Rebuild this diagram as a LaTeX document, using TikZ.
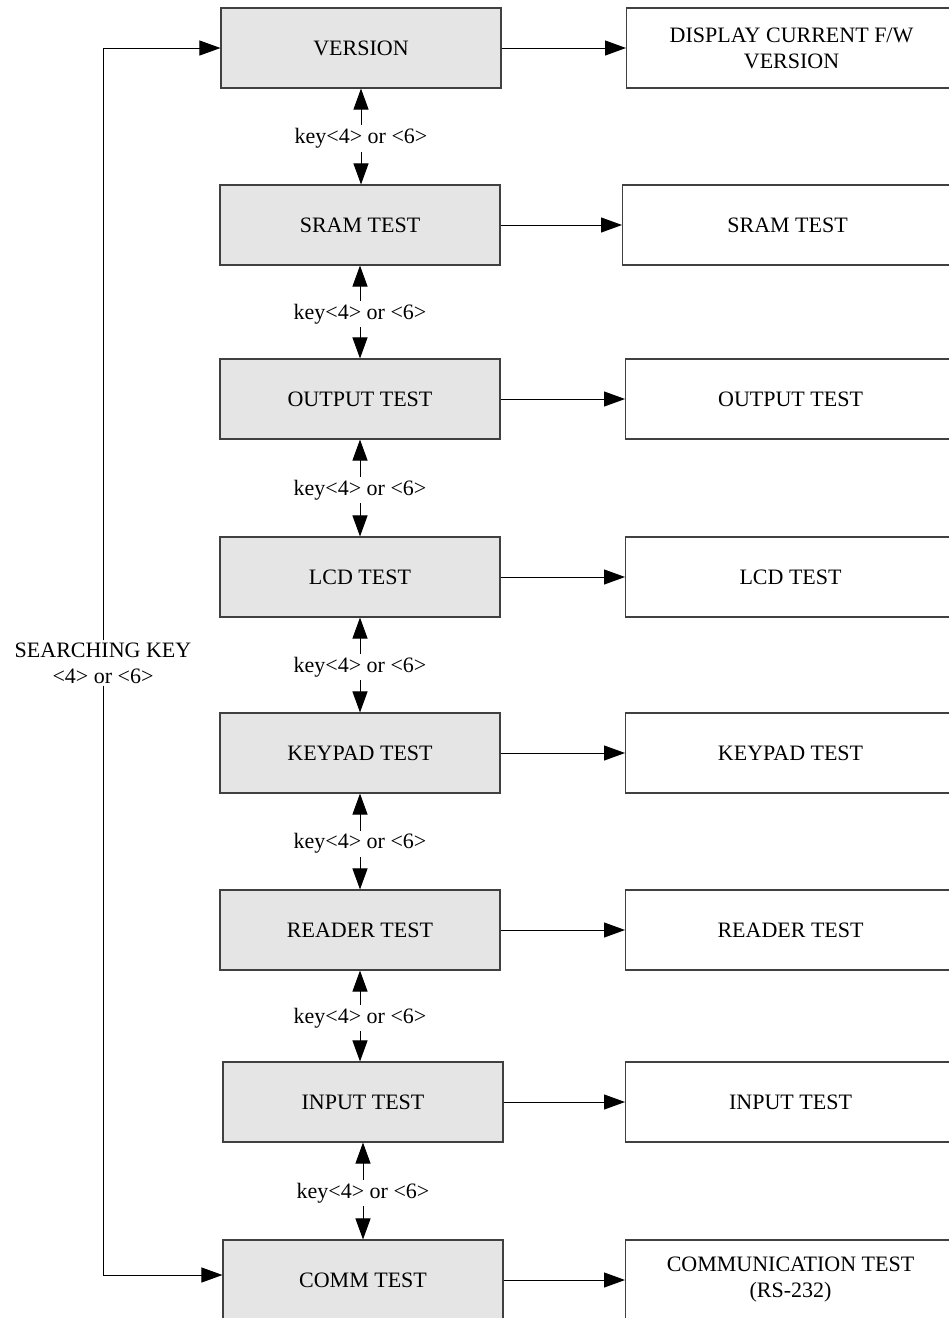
\documentclass[tikz,border=0pt]{standalone}
\usepackage{fontspec}
\setmainfont{Liberation Serif}
\usetikzlibrary{arrows.meta}
\begin{document}
\begin{tikzpicture}[x=1pt,y=-1pt,
  txt/.style={font=\fontsize{22}{26}\selectfont},
  lbox/.style={txt, draw=black!75, line width=1.1pt, fill=black!10, minimum width=280pt, minimum height=80pt, inner sep=0pt, align=center},
  rbox/.style={txt, draw=black!75, line width=1.1pt, fill=white, minimum width=330pt, minimum height=80pt, inner sep=0pt, anchor=west, align=center},
  klabel/.style={txt, fill=white, inner sep=3pt, yshift=-2pt},
  arr/.style={line width=1pt, -{Triangle[length=21pt,width=15pt]}},
  darr/.style={line width=1pt, {Triangle[length=21pt,width=15pt]}-{Triangle[length=21pt,width=15pt]}}
]
\useasboundingbox (0,0) rectangle (949,1318);
\clip (0,0) rectangle (949,1318);
\fill[white] (0,0) rectangle (949,1318);

% left column
\node[lbox] (v) at (361,48) {VERSION};
\node[lbox] (s) at (360,225) {SRAM TEST};
\node[lbox] (o) at (360,399) {OUTPUT TEST};
\node[lbox] (l) at (360,577) {LCD TEST};
\node[lbox] (k) at (360,753) {KEYPAD TEST};
\node[lbox] (r) at (360,930) {READER TEST};
\node[lbox] (i) at (363,1102) {INPUT TEST};
\node[lbox] (c) at (363,1280) {COMM TEST};

% right column
\node[rbox] (v2) at (626,48) {DISPLAY CURRENT F/W\\VERSION};
\node[rbox] (s2) at (622,225) {SRAM TEST};
\node[rbox] (o2) at (625,399) {OUTPUT TEST};
\node[rbox] (l2) at (625,577) {LCD TEST};
\node[rbox] (k2) at (625,753) {KEYPAD TEST};
\node[rbox] (r2) at (625,930) {READER TEST};
\node[rbox] (i2) at (625,1102) {INPUT TEST};
\node[rbox] (c2) at (625,1280) {COMMUNICATION TEST\\(RS-232)};

% horizontal arrows
\foreach \a in {v,s,o,l,k,r,i,c} {
  \draw[arr] (\a.east) -- (\a2.west);
}

% vertical double arrows
\foreach \a/\b in {v/s,s/o,o/l,l/k,k/r,r/i,i/c} {
  \draw[darr] (\a.south) -- node[klabel] {key<4> or <6>} (\a.south |- \b.north);
}

% searching key loop
\node[txt, fill=white, align=center, inner sep=2pt] (sk) at (103,663) {SEARCHING KEY\\<4> or <6>};
\draw[arr] (sk.north) |- (v.west);
\draw[arr] (sk.south) |- ([yshift=5pt]c.west);
\end{tikzpicture}
\end{document}
